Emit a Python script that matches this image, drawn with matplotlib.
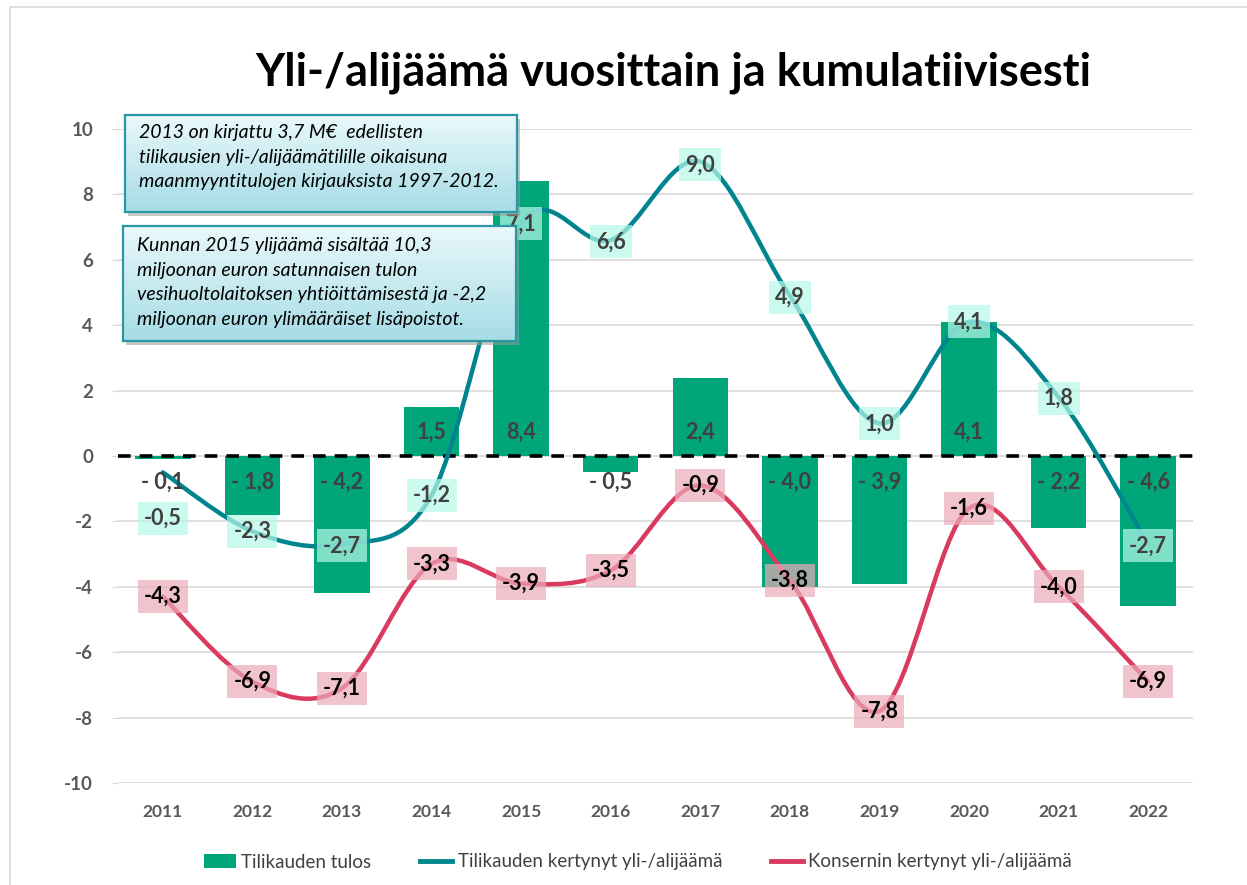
import matplotlib
matplotlib.use("Agg")
import matplotlib.pyplot as plt
import numpy as np
from matplotlib.path import Path
from matplotlib.patches import PathPatch, Rectangle, Patch
from matplotlib.lines import Line2D

# ---------------- data ----------------
years = ["2011", "2012", "2013", "2014", "2015", "2016",
         "2017", "2018", "2019", "2020", "2021", "2022"]
tulos = [-0.1, -1.8, -4.2, 1.5, 8.4, -0.5, 2.4, -4.0, -3.9, 4.1, -2.2, -4.6]
kertynyt = [-0.5, -2.3, -2.7, -1.2, 7.1, 6.6, 9.0, 4.9, 1.0, 4.1, 1.8, -2.7]
konserni = [-4.3, -6.9, -7.1, -3.3, -3.9, -3.5, -0.9, -3.8, -7.8, -1.6, -4.0, -6.9]
yticks = [-10, -8, -6, -4, -2, 0, 2, 4, 6, 8, 10]

title = "Yli-/alijäämä vuosittain ja kumulatiivisesti"
legend_labels = ["Tilikauden tulos", "Tilikauden kertynyt yli-/alijäämä",
                 "Konsernin kertynyt yli-/alijäämä"]
note1 = ("2013 on kirjattu 3,7 M€  edellisten\n"
         "tilikausien yli-/alijäämätilille oikaisuna\n"
         "maanmyyntitulojen kirjauksista 1997-2012.")
note2 = ("Kunnan 2015 ylijäämä sisältää 10,3\n"
         "miljoonan euron satunnaisen tulon\n"
         "vesihuoltolaitoksen yhtiöittämisestä ja -2,2\n"
         "miljoonan euron ylimääräiset lisäpoistot.")

# label placement (y position of the label for the teal series, where it differs)
kertynyt_label_y = [-1.9, -2.3, -2.75, -1.2, 7.1, 6.55, 8.9, 4.85, 0.98, 4.1, 1.77, -2.75]

# ---------------- style ----------------
W, H = 1247, 885
FONT = "Lato"
BAR_C = "#00A67A"
TEAL_C = "#00858F"
RED_C = "#D93A5E"
TXT_GREY = "#404040"

plt.rcParams["font.family"] = [FONT, "DejaVu Sans"]

fig = plt.figure(figsize=(W / 100, H / 100), dpi=100)
fig.patch.set_facecolor("white")

# outer border
fig.patches.append(Rectangle((10 / W, -0.05), 1.1, 1 - 7 / H + 0.05,
                             transform=fig.transFigure, fill=False,
                             edgecolor="#D9D9D9", linewidth=1.2))

ax = fig.add_axes([118 / W, 1 - 783 / H, (1193 - 118) / W, (783 - 129) / H])
x = np.arange(len(years))

ax.set_ylim(-10, 10)
ax.set_xlim(-0.5, len(years) - 0.5)
ax.set_yticks(yticks)
ax.set_yticklabels([str(v) for v in yticks])
ax.set_xticks(x)
ax.set_xticklabels(years)
ax.grid(axis="y", color="#D9D9D9", linewidth=1.2, zorder=0)
ax.set_axisbelow(True)
for s in ax.spines.values():
    s.set_visible(False)
ax.tick_params(axis="y", length=4, color="#D9D9D9", pad=14,
               labelsize=13.5, labelcolor="#595959")
ax.tick_params(axis="x", length=0, pad=15, labelsize=12.5, labelcolor="#595959")
for lbl in ax.get_yticklabels() + ax.get_xticklabels():
    lbl.set_fontweight("bold")

# bars
ax.bar(x, tulos, width=0.62, color=BAR_C, zorder=2)

# zero line
ax.axhline(0, color="black", linestyle=(0, (3.5, 2.5)), linewidth=2.6, zorder=3)


def smooth_path(xs, ys):
    pts = np.column_stack([xs, ys]).astype(float)
    n = len(pts)
    verts = [pts[0]]
    codes = [Path.MOVETO]
    for i in range(n - 1):
        p0 = pts[i - 1] if i > 0 else pts[i]
        p1 = pts[i]
        p2 = pts[i + 1]
        p3 = pts[i + 2] if i + 2 < n else pts[i + 1]
        c1 = p1 + (p2 - p0) / 6.0
        c2 = p2 - (p3 - p1) / 6.0
        verts += [c1, c2, p2]
        codes += [Path.CURVE4] * 3
    return Path(verts, codes)


ax.add_patch(PathPatch(smooth_path(x, kertynyt), facecolor="none",
                       edgecolor=TEAL_C, linewidth=3.2, zorder=4,
                       capstyle="round"))
ax.add_patch(PathPatch(smooth_path(x, konserni), facecolor="none",
                       edgecolor=RED_C, linewidth=3.2, zorder=4,
                       capstyle="round"))


def fmt(v, spaced=False):
    s = f"{abs(v):.1f}".replace(".", ",")
    if v < 0:
        return ("- " if spaced else "-") + s
    return s


LBL = 15.5
# bar labels (inside base)
for xi, v in zip(x, tulos):
    yy = -0.8 if v < 0 else 0.72
    ax.text(xi, yy, fmt(v, spaced=True), ha="center", va="center",
            fontsize=LBL, fontweight="bold", color=TXT_GREY, zorder=6)

# teal labels
for xi, v, ly in zip(x, kertynyt, kertynyt_label_y):
    ax.text(xi, ly, fmt(v), ha="center", va="center", fontsize=LBL,
            fontweight="bold", color=TXT_GREY, zorder=7,
            bbox=dict(boxstyle="square,pad=0.28", facecolor=(182/255, 249/255, 232/255),
                      alpha=0.7, edgecolor="none"))

# red labels
for xi, v in zip(x, konserni):
    ax.text(xi, v, fmt(v), ha="center", va="center", fontsize=LBL,
            fontweight="bold", color="black", zorder=7,
            bbox=dict(boxstyle="square,pad=0.28", facecolor=(236/255, 171/255, 185/255),
                      alpha=0.7, edgecolor="none"))

# title
fig.text(673 / W, 1 - 73 / H, title, ha="center", va="center",
         fontsize=32.5, fontweight="bold", color="black")

# legend
handles = [Patch(facecolor=BAR_C, edgecolor="none"),
           Line2D([0], [0], color=TEAL_C, linewidth=3.5),
           Line2D([0], [0], color=RED_C, linewidth=3.5)]
fig.legend(handles, legend_labels, loc="center", bbox_to_anchor=(638 / W, 1 - 862 / H),
           ncol=3, frameon=False, fontsize=13.5, handlelength=1.7,
           handletextpad=0.3, columnspacing=2.6, labelcolor="#404040")


# annotation boxes
def note_box(x0, y0, x1, y1, text, first_y):
    sh = Rectangle(((x0 + 3) / W, 1 - (y1 + 4) / H), (x1 - x0) / W, (y1 - y0) / H,
                   transform=fig.transFigure, facecolor="#9A9A9A", alpha=0.55,
                   edgecolor="none", zorder=9)
    fig.patches.append(sh)
    bax = fig.add_axes([x0 / W, 1 - y1 / H, (x1 - x0) / W, (y1 - y0) / H], zorder=10)
    top = np.array([234, 249, 251]) / 255
    bot = np.array([166, 220, 230]) / 255
    t = np.linspace(0, 1, 100)[:, None]
    grad = (top[None, :] * (1 - t) + bot[None, :] * t)[:, None, :]
    bax.imshow(grad, aspect="auto", extent=[0, 1, 0, 1], origin="upper")
    bax.set_xticks([])
    bax.set_yticks([])
    for s in bax.spines.values():
        s.set_color("#2A98A3")
        s.set_linewidth(1.6)
    bax.text(14 / (x1 - x0), 1 - first_y / (y1 - y0), text, transform=bax.transAxes,
             ha="left", va="top", fontsize=14, style="italic", color="black",
             linespacing=1.55)


note_box(125, 115, 517, 212, note1, 9)
note_box(123, 226, 516, 341, note2, 11)

fig.savefig("out.png", dpi=100)
